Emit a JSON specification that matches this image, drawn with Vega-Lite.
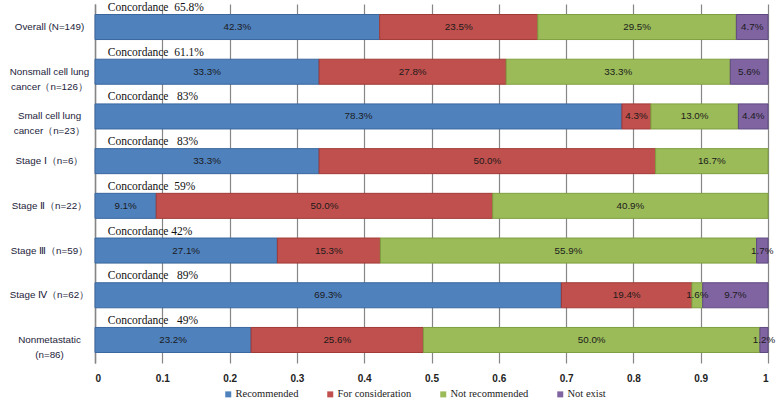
{
  "$schema": "https://vega.github.io/schema/vega-lite/v6.json",
  "width": 673,
  "height": 359,
  "autosize": "none",
  "padding": {"left": 95, "top": 4, "right": 10, "bottom": 42},
  "background": "white",
  "config": {"view": {"stroke": null}, "legend": {"labelFont": "Liberation Serif", "labelFontSize": 10.5}},
  "datasets": {
    "segs": [
      {"row": "Overall (N=149)", "cat": "Recommended", "v": 0.423},
      {"row": "Overall (N=149)", "cat": "For consideration", "v": 0.235},
      {"row": "Overall (N=149)", "cat": "Not recommended", "v": 0.295},
      {"row": "Overall (N=149)", "cat": "Not exist", "v": 0.047},
      {"row": "Nonsmall cell lung\ncancer（n=126）", "cat": "Recommended", "v": 0.333},
      {"row": "Nonsmall cell lung\ncancer（n=126）", "cat": "For consideration", "v": 0.278},
      {"row": "Nonsmall cell lung\ncancer（n=126）", "cat": "Not recommended", "v": 0.333},
      {"row": "Nonsmall cell lung\ncancer（n=126）", "cat": "Not exist", "v": 0.056},
      {"row": "Small cell lung\ncancer（n=23）", "cat": "Recommended", "v": 0.783},
      {"row": "Small cell lung\ncancer（n=23）", "cat": "For consideration", "v": 0.043},
      {"row": "Small cell lung\ncancer（n=23）", "cat": "Not recommended", "v": 0.130},
      {"row": "Small cell lung\ncancer（n=23）", "cat": "Not exist", "v": 0.044},
      {"row": "Stage Ⅰ（n=6）", "cat": "Recommended", "v": 0.333},
      {"row": "Stage Ⅰ（n=6）", "cat": "For consideration", "v": 0.500},
      {"row": "Stage Ⅰ（n=6）", "cat": "Not recommended", "v": 0.167},
      {"row": "Stage Ⅱ（n=22）", "cat": "Recommended", "v": 0.091},
      {"row": "Stage Ⅱ（n=22）", "cat": "For consideration", "v": 0.500},
      {"row": "Stage Ⅱ（n=22）", "cat": "Not recommended", "v": 0.409},
      {"row": "Stage Ⅲ（n=59）", "cat": "Recommended", "v": 0.271},
      {"row": "Stage Ⅲ（n=59）", "cat": "For consideration", "v": 0.153},
      {"row": "Stage Ⅲ（n=59）", "cat": "Not recommended", "v": 0.559},
      {"row": "Stage Ⅲ（n=59）", "cat": "Not exist", "v": 0.017},
      {"row": "Stage Ⅳ（n=62）", "cat": "Recommended", "v": 0.693},
      {"row": "Stage Ⅳ（n=62）", "cat": "For consideration", "v": 0.194},
      {"row": "Stage Ⅳ（n=62）", "cat": "Not recommended", "v": 0.016},
      {"row": "Stage Ⅳ（n=62）", "cat": "Not exist", "v": 0.097},
      {"row": "Nonmetastatic\n(n=86)", "cat": "Recommended", "v": 0.232},
      {"row": "Nonmetastatic\n(n=86)", "cat": "For consideration", "v": 0.256},
      {"row": "Nonmetastatic\n(n=86)", "cat": "Not recommended", "v": 0.500},
      {"row": "Nonmetastatic\n(n=86)", "cat": "Not exist", "v": 0.012}
    ],
    "conc": [
      {"row": "Overall (N=149)", "label": "Concordance\u00a0\u00a065.8%"},
      {"row": "Nonsmall cell lung\ncancer（n=126）", "label": "Concordance\u00a0\u00a061.1%"},
      {"row": "Small cell lung\ncancer（n=23）", "label": "Concordance\u00a0\u00a0\u00a083%"},
      {"row": "Stage Ⅰ（n=6）", "label": "Concordance\u00a0\u00a0\u00a083%"},
      {"row": "Stage Ⅱ（n=22）", "label": "Concordance\u00a0\u00a059%"},
      {"row": "Stage Ⅲ（n=59）", "label": "Concordance\u00a042%"},
      {"row": "Stage Ⅳ（n=62）", "label": "Concordance\u00a0\u00a0\u00a089%"},
      {"row": "Nonmetastatic\n(n=86)", "label": "Concordance\u00a0\u00a0\u00a049%"}
    ]
  },
  "layer": [
    {
      "data": {"name": "segs"},
      "transform": [
        {"calculate": "indexof(['Recommended','For consideration','Not recommended','Not exist'], datum.cat)", "as": "ord"},
        {"stack": "v", "groupby": ["row"], "sort": [{"field": "ord", "order": "ascending"}], "as": ["x0", "x1"]},
        {"calculate": "(datum.x0 + datum.x1) / 2", "as": "xm"}
      ],
      "layer": [
        {
          "mark": {"type": "bar", "strokeWidth": 1},
          "encoding": {
            "y": {
              "field": "row", "type": "nominal",
              "sort": ["Overall (N=149)", "Nonsmall cell lung\ncancer（n=126）", "Small cell lung\ncancer（n=23）", "Stage Ⅰ（n=6）", "Stage Ⅱ（n=22）", "Stage Ⅲ（n=59）", "Stage Ⅳ（n=62）", "Nonmetastatic\n(n=86)"],
              "scale": {"paddingInner": 0.44, "paddingOuter": 0.235},
              "axis": {
                "title": null, "ticks": false, "domain": true, "domainColor": "#868686", "domainWidth": 1.5,
                "labelExpr": "split(datum.label, '\\n')",
                "labelAlign": "center", "labelPadding": 46, "labelLineHeight": 15,
                "labelFont": "Liberation Sans", "labelFontSize": 9.8, "labelColor": "#1c1c3a", "labelLimit": 200
              }
            },
            "x": {
              "field": "x0", "type": "quantitative",
              "scale": {"domain": [0, 1], "nice": false},
              "axis": {
                "title": null, "values": [0, 0.1, 0.2, 0.3, 0.4, 0.5, 0.6, 0.7, 0.8, 0.9, 1],
                "format": "~g", "domain": false, "ticks": false,
                "grid": true, "gridColor": "#868686", "gridWidth": 1.2,
                "labelPadding": 10, "labelFont": "Liberation Sans", "labelFontSize": 10, "labelFontWeight": "bold", "labelColor": "#222222"
              }
            },
            "x2": {"field": "x1"},
            "color": {
              "field": "cat", "type": "nominal",
              "scale": {"domain": ["Recommended", "For consideration", "Not recommended", "Not exist"], "range": ["#4F81BD", "#C0504D", "#9BBB59", "#8064A2"]},
              "legend": {
                "title": null, "orient": "none", "direction": "horizontal", "legendX": 128, "legendY": 385,
                "symbolType": "square", "symbolSize": 36, "symbolStrokeWidth": 0,
                "labelFont": "Liberation Serif", "labelFontSize": 10.5, "labelColor": "#222222",
                "labelOffset": 2, "columnPadding": 26
              }
            },
            "stroke": {
              "field": "cat", "type": "nominal",
              "scale": {"domain": ["Recommended", "For consideration", "Not recommended", "Not exist"], "range": ["#3A679E", "#A03A37", "#7E9F3F", "#5F4A80"]},
              "legend": null
            }
          }
        },
        {
          "mark": {"type": "text", "font": "Liberation Sans", "fontSize": 9.8, "color": "#1a1a1a", "baseline": "middle", "align": "center"},
          "encoding": {
            "y": {"field": "row", "type": "nominal", "sort": ["Overall (N=149)", "Nonsmall cell lung\ncancer（n=126）", "Small cell lung\ncancer（n=23）", "Stage Ⅰ（n=6）", "Stage Ⅱ（n=22）", "Stage Ⅲ（n=59）", "Stage Ⅳ（n=62）", "Nonmetastatic\n(n=86)"]},
            "x": {"field": "xm", "type": "quantitative"},
            "text": {"field": "v", "type": "quantitative", "format": ".1%"}
          }
        }
      ]
    },
    {
      "data": {"name": "conc"},
      "mark": {"type": "text", "font": "Liberation Serif", "fontSize": 11.5, "color": "#111111", "align": "left", "baseline": "middle", "dy": -19},
      "encoding": {
        "y": {"field": "row", "type": "nominal", "sort": ["Overall (N=149)", "Nonsmall cell lung\ncancer（n=126）", "Small cell lung\ncancer（n=23）", "Stage Ⅰ（n=6）", "Stage Ⅱ（n=22）", "Stage Ⅲ（n=59）", "Stage Ⅳ（n=62）", "Nonmetastatic\n(n=86)"]},
        "x": {"datum": 0.019, "type": "quantitative"},
        "text": {"field": "label", "type": "nominal"}
      }
    }
  ]
}
